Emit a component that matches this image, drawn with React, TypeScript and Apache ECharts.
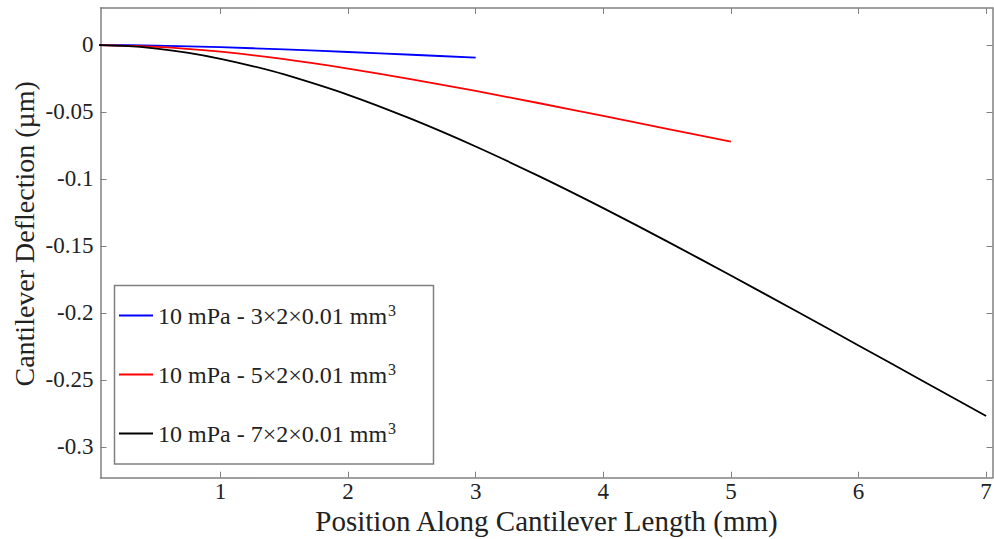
import React, { useEffect, useRef } from "react";
import * as echarts from "echarts";

const xTicks = [1, 2, 3, 4, 5, 6, 7];
const yTicks = [0, -0.05, -0.1, -0.15, -0.2, -0.25, -0.3];

const seriesNames = [
  "10 mPa - 3×2×0.01 mm",
  "10 mPa - 5×2×0.01 mm",
  "10 mPa - 7×2×0.01 mm",
];
const seriesColors = ["#0000ff", "#ff0000", "#000000"];

const blueX = [0, 0.5, 1, 1.5, 2, 2.5, 3];
const blueY = [0, -0.00047, -0.00166, -0.00333, -0.00526, -0.00731, -0.0094];

const redX = [0, 0.5, 1, 1.5, 2, 2.5, 3, 3.5, 4, 4.5, 5];
const redY = [0, -0.00135, -0.00504, -0.0106, -0.0176, -0.0256, -0.0343, -0.0435, -0.053, -0.0626, -0.0722];

const blackX = [0, 0.25, 0.5, 0.75, 1, 1.25, 1.5, 2, 2.5, 3, 3.5, 4, 4.5, 5, 5.5, 6, 6.5, 7];
const blackY = [0, -0.00069, -0.0027, -0.0059, -0.0103, -0.0157, -0.022, -0.0372, -0.0554, -0.0758, -0.0981, -0.1218, -0.1466, -0.1721, -0.198, -0.2243, -0.2506, -0.277];

const FONT = "'Liberation Serif', 'DejaVu Serif', serif";
const AXIS = "#808080";

function pairs(xs: number[], ys: number[]) {
  return xs.map((x, i) => [x, ys[i]]);
}

export default function App() {
  const ref = useRef<HTMLDivElement>(null);
  useEffect(() => {
    if (!ref.current) return;
    const chart = echarts.init(ref.current, null, { renderer: "svg" });
    const axisCommon = {
      axisLine: { show: true, onZero: false, lineStyle: { color: AXIS, width: 1.5 } },
      splitLine: { show: false },
    };
    const xBase = {
      type: "value",
      min: 0.06,
      max: 7.05,
      ...axisCommon,
    };
    const yBase = {
      type: "value",
      min: -0.323,
      max: 0.0276,
      ...axisCommon,
    };
    const data = [pairs(blueX, blueY), pairs(redX, redY), pairs(blackX, blackY)];
    chart.setOption({
      animation: false,
      backgroundColor: "#ffffff",
      grid: {
        left: 100.5,
        top: 8,
        right: 1.5,
        bottom: 61.3,
        containLabel: false,
        outerBoundsMode: "none",
      },
      xAxis: [
        {
          ...xBase,
          position: "bottom",
          name: "Position Along Cantilever Length (mm)",
          nameLocation: "middle",
          nameMoveOverlap: false,
          nameGap: 29,
          nameTextStyle: { fontFamily: FONT, fontSize: 29, color: "#222", lineHeight: 29 },
          axisTick: { show: true, inside: true, length: 6, customValues: xTicks, lineStyle: { color: AXIS } },
          axisLabel: {
            show: true,
            customValues: xTicks,
            margin: 3,
            fontFamily: FONT,
            fontSize: 23,
            lineHeight: 21,
            color: "#222",
          },
        },
        {
          ...xBase,
          position: "top",
          axisTick: { show: true, inside: true, length: 6, customValues: xTicks, lineStyle: { color: AXIS } },
          axisLabel: { show: false },
        },
      ],
      yAxis: [
        {
          ...yBase,
          position: "left",
          name: "Cantilever Deflection (µm)",
          nameLocation: "middle",
          nameMoveOverlap: false,
          nameGap: 62,
          nameTextStyle: { fontFamily: FONT, fontSize: 28, color: "#222", padding: [0, 0, 0, 18] },
          axisTick: { show: true, inside: true, length: 6, customValues: yTicks, lineStyle: { color: AXIS } },
          axisLabel: {
            show: true,
            customValues: yTicks,
            margin: 7,
            fontFamily: FONT,
            fontSize: 23,
            color: "#222",
          },
        },
        {
          ...yBase,
          position: "right",
          axisTick: { show: true, inside: true, length: 6, customValues: yTicks, lineStyle: { color: AXIS } },
          axisLabel: { show: false },
        },
      ],
      legend: {
        show: true,
        orient: "vertical",
        left: 114,
        top: 297,
        itemGap: 31,
        itemWidth: 34,
        itemHeight: 2,
        icon: "rect",
        data: seriesNames.map((n, i) => ({ name: n, itemStyle: { color: seriesColors[i] } })),
        formatter: (name: string) => `{a|${name}}{s|3}`,
        textStyle: {
          rich: {
            a: { fontFamily: FONT, fontSize: 24, color: "#222", lineHeight: 27 },
            s: { fontFamily: FONT, fontSize: 16, color: "#222", verticalAlign: "top", lineHeight: 27, padding: [0, 0, 12, 1] },
          },
        },
      },
      graphic: [
        {
          type: "rect",
          shape: { x: 114.5, y: 285.5, width: 319, height: 178.5 },
          style: { fill: "none", stroke: AXIS, lineWidth: 1.5 },
          z: 10,
        },
      ],
      series: seriesNames.map((n, i) => ({
        name: n,
        type: "line",
        xAxisIndex: 0,
        yAxisIndex: 0,
        data: data[i],
        smooth: 0.3,
        showSymbol: false,
        symbol: "none",
        clip: true,
        lineStyle: { color: seriesColors[i], width: 1.8 },
        itemStyle: { color: seriesColors[i] },
      })),
    });
    return () => chart.dispose();
  }, []);
  return <div ref={ref} style={{ width: 994, height: 539, position: "absolute", left: 0, top: 0 }} />;
}
